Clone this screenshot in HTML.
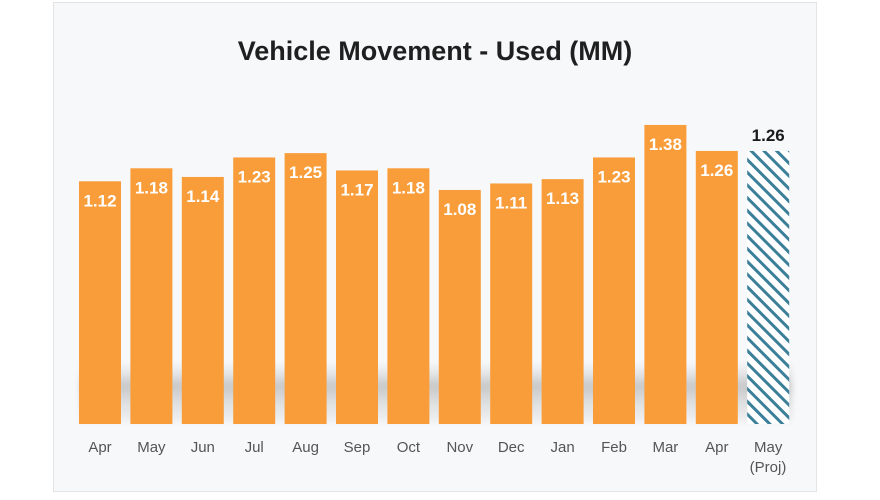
<!DOCTYPE html>
<html><head><style>
body{margin:0;background:#fff;width:880px;height:495px;overflow:hidden}
</style></head><body>
<svg width="880" height="495" xmlns="http://www.w3.org/2000/svg" font-family="Liberation Sans, sans-serif">
<defs>
<pattern id="h" patternUnits="userSpaceOnUse" width="9" height="9" patternTransform="rotate(-45)">
<rect width="9" height="9" fill="#fff"/><rect width="3" height="9" fill="#3b7f99"/>
</pattern>
<linearGradient id="sh" x1="0" y1="0" x2="0" y2="1">
<stop offset="0" stop-color="#ccc" stop-opacity="0"/><stop offset="0.4" stop-color="#bbb" stop-opacity="0.8"/><stop offset="1" stop-color="#ddd" stop-opacity="0.3"/>
</linearGradient>
<filter id="b"><feGaussianBlur stdDeviation="3"/></filter>
</defs>
<rect x="53.5" y="2.5" width="763" height="489" fill="#f7f8fa" stroke="#e3e4e6"/>
<text x="435" y="60" text-anchor="middle" font-size="27" font-weight="bold" fill="#1f1f1f">Vehicle Movement - Used (MM)</text>
<rect x="80" y="362" width="712" height="60" fill="url(#sh)" filter="url(#b)"/>
<g id="bars" font-size="17" font-weight="bold" fill="#fff" text-anchor="middle"></g>
<g id="lab" font-size="15" fill="#555" text-anchor="middle"></g>
</svg>
<script>
(function(){
var v=[1.12,1.18,1.14,1.23,1.25,1.17,1.18,1.08,1.11,1.13,1.23,1.38,1.26,1.26];
var m=["Apr","May","Jun","Jul","Aug","Sep","Oct","Nov","Dec","Jan","Feb","Mar","Apr","May"];
var ns="http://www.w3.org/2000/svg",B=document.getElementById("bars"),L=document.getElementById("lab");
function el(t,a,p,txt){var e=document.createElementNS(ns,t);for(var k in a)e.setAttribute(k,a[k]);if(txt)e.textContent=txt;p.appendChild(e);return e;}
for(var i=0;i<14;i++){var c=100+i*51.4,ty=424-v[i]*216.7;
el("rect",{x:c-21,y:ty,width:42,height:424-ty,fill:i==13?"url(#h)":"#f99d3a"},B);
if(i<13)el("text",{x:c,y:ty+25},B,v[i].toFixed(2));
else el("text",{x:c,y:ty-10,fill:"#1a1a1a"},B,"1.26");
el("text",{x:c,y:452},L,m[i]);}
el("text",{x:768,y:472},L,"(Proj)");
})();
</script>
</body></html>
